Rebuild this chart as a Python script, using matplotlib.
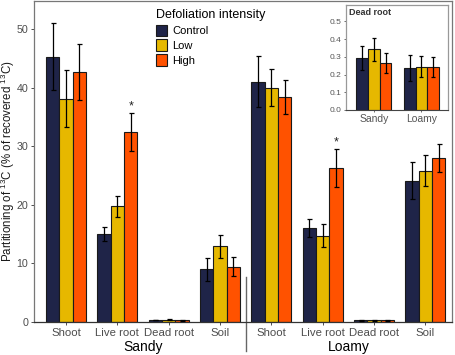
import matplotlib
matplotlib.use("Agg")
import matplotlib.pyplot as plt
import numpy as np

plt.rcParams['font.family'] = ['Liberation Sans', 'DejaVu Sans']
plt.rcParams['mathtext.fontset'] = 'custom'
plt.rcParams['mathtext.rm'] = 'Liberation Sans'
plt.rcParams['mathtext.it'] = 'Liberation Sans:italic'
plt.rcParams['mathtext.bf'] = 'Liberation Sans:bold'

categories = ["Shoot", "Live root", "Dead root", "Soil"]
soils = ["Sandy", "Loamy"]
treatments = ["Control", "Low", "High"]
colors = ["#1f2448", "#e6b800", "#ff5200"]

# means per group (Sandy: Shoot, Live, Dead, Soil; Loamy: same)
control_mean = [45.3, 15.0, 0.29, 8.95, 41.0, 16.0, 0.24, 24.1]
low_mean     = [38.1, 19.7, 0.34, 12.9, 40.0, 14.7, 0.245, 25.8]
high_mean    = [42.7, 32.4, 0.26, 9.4, 38.4, 26.3, 0.245, 28.0]
control_se   = [5.7, 1.15, 0.07, 2.0, 4.35, 1.5, 0.075, 3.15]
low_se       = [4.9, 1.85, 0.065, 1.95, 3.2, 1.95, 0.06, 2.65]
high_se      = [4.8, 3.2, 0.056, 1.6, 2.9, 3.2, 0.057, 2.45]

# inset: dead root
dead_control = [0.292, 0.238]
dead_low     = [0.343, 0.245]
dead_high    = [0.264, 0.245]
dead_control_se = [0.067, 0.075]
dead_low_se     = [0.064, 0.06]
dead_high_se    = [0.056, 0.057]

star_groups = [1, 5]

W, H = 456, 355
fig = plt.figure(figsize=(W/100, H/100), dpi=100)

def fx(px): return px / W
def fy(py): return 1 - py / H

ax = fig.add_axes([fx(34), fy(321.7), fx(452) - fx(34), fy(1) - fy(321.7)])
pos = np.arange(8)
bw = 0.26
means = [control_mean, low_mean, high_mean]
ses = [control_se, low_se, high_se]
for i in range(3):
    x = pos + (i - 1) * bw
    ax.bar(x, means[i], bw, color=colors[i], edgecolor="#1a1a1a", linewidth=0.8,
           label=treatments[i], zorder=2)
    ax.errorbar(x, means[i], yerr=ses[i], fmt='none', ecolor='black',
                elinewidth=0.9, capsize=1.8, capthick=0.9, zorder=3)

for g in star_groups:
    ax.text(g + bw, high_mean[g] + high_se[g] + 1.1, "*", ha='center', va='center',
            fontsize=9, color='#222222')

ax.set_xlim(-0.625, 7.52)
ax.set_ylim(0, 54.8)
ax.set_yticks([0, 10, 20, 30, 40, 50])
ax.set_xticks(pos)
ax.set_xticklabels(categories * 2)
ax.tick_params(axis='x', labelsize=8.2, colors='#4d4d4d', length=2.5, width=0.7, pad=2)
ax.tick_params(axis='y', labelsize=7.7, colors='#4d4d4d', length=2.5, width=0.7, pad=1.5)
for s in ['left', 'top', 'right']:
    ax.spines[s].set_color('#777777')
    ax.spines[s].set_linewidth(0.9)
ax.spines['bottom'].set_color('#333333')
ax.spines['bottom'].set_linewidth(0.9)

ax.set_ylabel("Partitioning of $^{13}$C (% of recovered $^{13}$C)", fontsize=8.3,
              color='#1a1a1a')
ax.yaxis.set_label_coords(-0.041, 0.5)

# soil labels
for k, s in enumerate(soils):
    ax.text(1.5 + 4 * k, -4.4, s, ha='center', va='center', fontsize=10, color='black',
            clip_on=False)

# separator line
ax.plot([3.5, 3.5], [7.6, -5.0], color='#666666', lw=1.0, clip_on=False)

# legend
leg = ax.legend(loc='upper left', bbox_to_anchor=(0.275, 0.995), frameon=False,
                title="Defoliation intensity", fontsize=8, title_fontsize=9,
                handlelength=1.0, handleheight=1.2, handletextpad=0.5,
                labelspacing=0.3, borderaxespad=0.2)
leg._legend_box.align = "left"

# inset
iax = fig.add_axes([fx(346), fy(110), fx(448) - fx(346), fy(5) - fy(110)])
ipos = np.arange(2)
ibw = 0.246
imeans = [dead_control, dead_low, dead_high]
ises = [dead_control_se, dead_low_se, dead_high_se]
for i in range(3):
    x = ipos + (i - 1) * ibw
    iax.bar(x, imeans[i], ibw, color=colors[i], edgecolor="#1a1a1a", linewidth=0.8, zorder=2)
    iax.errorbar(x, imeans[i], yerr=ises[i], fmt='none', ecolor='black',
                 elinewidth=0.9, capsize=1.5, capthick=0.9, zorder=3)
iax.set_xlim(-0.59, 1.56)
iax.set_ylim(0, 0.593)
iax.set_yticks([0.0, 0.1, 0.2, 0.3, 0.4, 0.5])
iax.set_yticklabels(["0.0", "0.1", "0.2", "0.3", "0.4", "0.5"])
iax.set_xticks(ipos)
iax.set_xticklabels(soils)
iax.tick_params(axis='y', labelsize=6, colors='#555555', length=1.5, width=0.6, pad=1.5)
iax.tick_params(axis='x', labelsize=7.5, colors='#555555', length=1.5, width=0.6, pad=1.5)
for s in ['left', 'top', 'right']:
    iax.spines[s].set_color('#999999')
    iax.spines[s].set_linewidth(0.9)
iax.spines['bottom'].set_color('#444444')
iax.spines['bottom'].set_linewidth(0.8)
iax.text(0.03, 0.97, "Dead root", transform=iax.transAxes, ha='left', va='top',
         fontsize=6.5, fontweight='bold', color='#333333')

fig.savefig("out.png", dpi=100)
